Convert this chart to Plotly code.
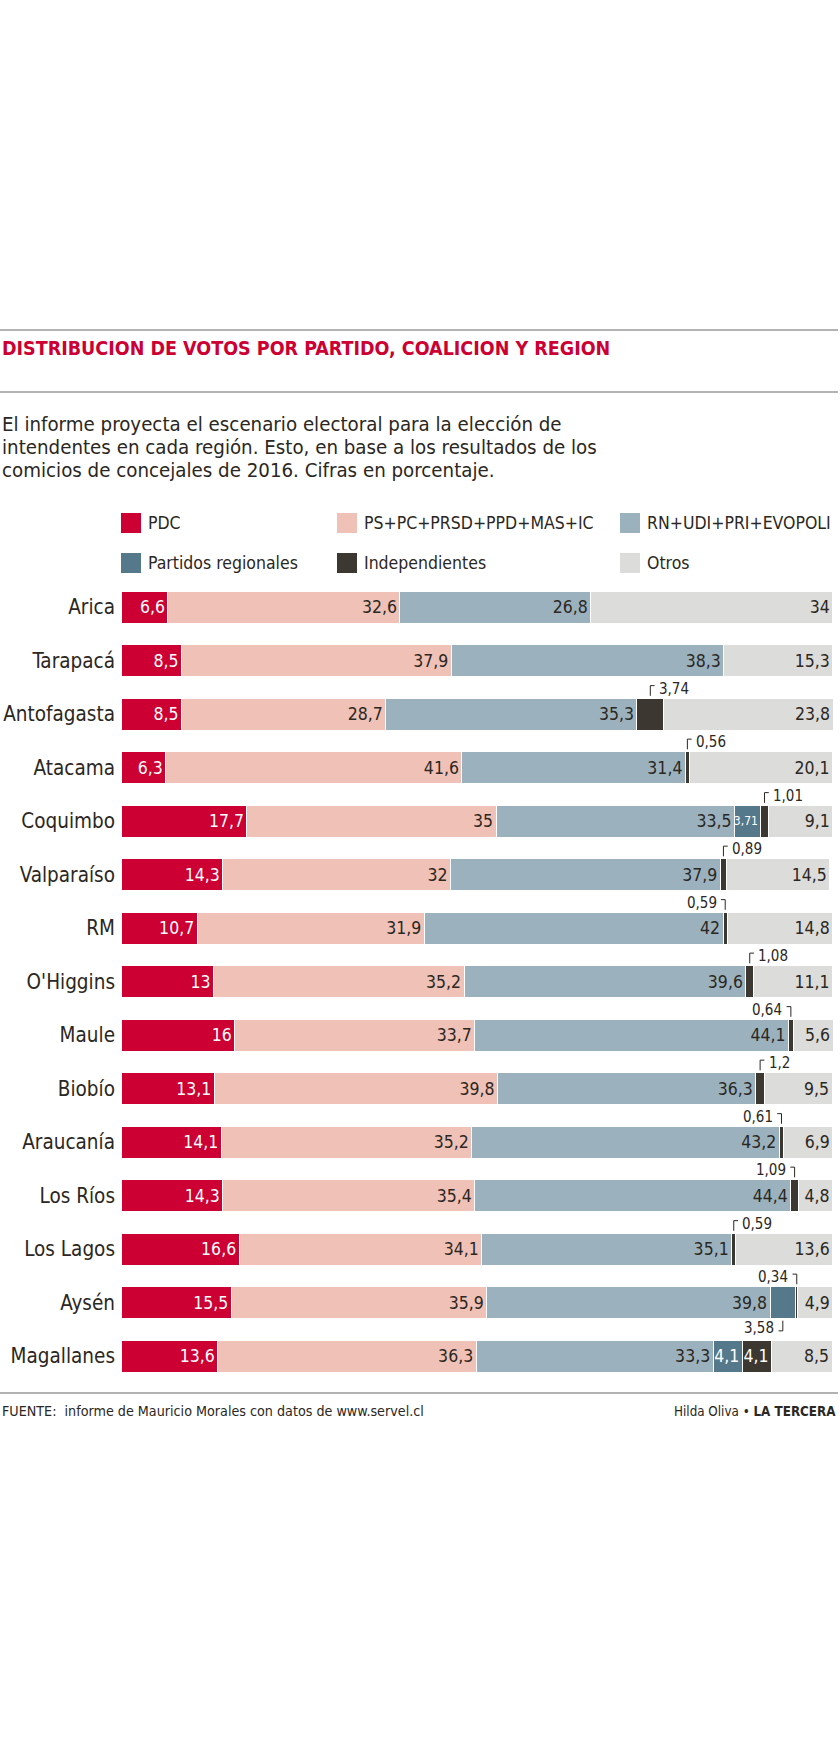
import plotly.graph_objects as go

W, H = 840, 1750

regions = ["Arica", "Tarapacá", "Antofagasta", "Atacama", "Coquimbo", "Valparaíso", "RM",
           "O'Higgins", "Maule", "Biobío", "Araucanía", "Los Ríos", "Los Lagos", "Aysén", "Magallanes"]
series_names = ["PDC", "PS+PC+PRSD+PPD+MAS+IC", "RN+UDI+PRI+EVOPOLI",
                "Partidos regionales", "Independientes", "Otros"]
pdc = [6.6, 8.5, 8.5, 6.3, 17.7, 14.3, 10.7, 13, 16, 13.1, 14.1, 14.3, 16.6, 15.5, 13.6]
ps_pc = [32.6, 37.9, 28.7, 41.6, 35, 32, 31.9, 35.2, 33.7, 39.8, 35.2, 35.4, 34.1, 35.9, 36.3]
rn_udi = [26.8, 38.3, 35.3, 31.4, 33.5, 37.9, 42, 39.6, 44.1, 36.3, 43.2, 44.4, 35.1, 39.8, 33.3]
regionales = [0, 0, 0, 0, 3.71, 0, 0, 0, 0, 0, 0, 0, 0, 3.58, 4.1]
independientes = [0, 0, 3.74, 0.56, 1.01, 0.89, 0.59, 1.08, 0.64, 1.2, 0.61, 1.09, 0.59, 0.34, 4.1]
otros = [34, 15.3, 23.8, 20.1, 9.1, 14.5, 14.8, 11.1, 5.6, 9.5, 6.9, 4.8, 13.6, 4.9, 8.5]
series_values = [pdc, ps_pc, rn_udi, regionales, independientes, otros]

# labels drawn outside the bar with a small bracket: (region, series index, placement)
callouts = [("Antofagasta", 4, "up-right"), ("Atacama", 4, "up-right"), ("Coquimbo", 4, "up-right"),
            ("Valparaíso", 4, "up-right"), ("RM", 4, "up-left"), ("O'Higgins", 4, "up-right"),
            ("Maule", 4, "up-left"), ("Biobío", 4, "up-right"), ("Araucanía", 4, "up-left"),
            ("Los Ríos", 4, "up-left"), ("Los Lagos", 4, "up-right"), ("Aysén", 4, "up-left"),
            ("Aysén", 3, "down-left")]

colors = ["#CC0033", "#F0C1B6", "#9BB2BE", "#55798A", "#3C3731", "#DCDCDB"]
text_colors = ["#FFFFFF", "#2B2722", "#2B2722", "#FFFFFF", "#FFFFFF", "#2B2722"]
TEXT = "#2B2722"
FONT = "DejaVu Sans Condensed, Roboto Condensed, sans-serif"


def fmt(v):
    return f"{v:g}".replace(".", ",")


callout_keys = {(r, s) for r, s, _ in callouts}
totals = [sum(vals[i] for vals in series_values) for i in range(len(regions))]

fig = go.Figure()
for si, (name, vals) in enumerate(zip(series_names, series_values)):
    texts, sizes = [], []
    for r, v in zip(regions, vals):
        if v == 0 or (r, si) in callout_keys:
            texts.append("")
        else:
            texts.append(fmt(v))
        sizes.append(12 if (si == 3 and v < 4) else 17.5)
    fig.add_trace(go.Bar(
        y=regions, x=vals, orientation="h", name=name,
        marker=dict(color=colors[si], line=dict(color="white", width=1)),
        text=texts, textposition="inside", insidetextanchor="end", textangle=0,
        constraintext="none", cliponaxis=False,
        insidetextfont=dict(color=text_colors[si], size=sizes, family=FONT),
        hoverinfo="skip", showlegend=False,
    ))

x0p, x1p = 121, 833
top_px, bot_px = 580.25, 1382.75

fig.update_layout(
    width=W, height=H, barmode="stack", bargap=0.402,
    margin=dict(l=0, r=0, t=0, b=0),
    plot_bgcolor="white", paper_bgcolor="white",
    font=dict(family=FONT, color=TEXT),
    xaxis=dict(domain=[x0p / W, x1p / W], range=[0, max(totals)], visible=False, fixedrange=True),
    yaxis=dict(domain=[1 - bot_px / H, 1 - top_px / H], range=[14.5, -0.5], type="category",
               showgrid=False, zeroline=False, showline=False, ticks="", fixedrange=True,
               ticklabelstandoff=5, tickfont=dict(size=20.5, color=TEXT, family=FONT)),
)


def px(x):
    return x / W


def py(y):
    return 1 - y / H


shapes, annos = [], []
# rules
for yy in (330, 392, 1393):
    shapes.append(dict(type="line", xref="paper", yref="paper", x0=0, x1=px(838), y0=py(yy), y1=py(yy),
                       line=dict(color="#9A9A9A", width=1.6)))

annos.append(dict(xref="paper", yref="paper", x=0, y=py(348), xanchor="left", yanchor="middle",
                  text="<b>DISTRIBUCION DE VOTOS POR PARTIDO, COALICION Y REGION</b>", showarrow=False,
                  font=dict(size=19.5, color="#CC0033", family=FONT)))
para = ["El informe proyecta el escenario electoral para la elección de",
        "intendentes en cada región. Esto, en base a los resultados de los",
        "comicios de concejales de 2016. Cifras en porcentaje."]
for k, line in enumerate(para):
    annos.append(dict(xref="paper", yref="paper", x=0, y=py(424 + k * 23), xanchor="left", yanchor="middle",
                      text=line, showarrow=False, font=dict(size=20.3, color=TEXT, family=FONT)))

# legend
leg_pos = [(121, 523), (337, 523), (620, 523), (121, 563), (337, 563), (620, 563)]
for (lx, ly), name, c in zip(leg_pos, series_names, colors):
    shapes.append(dict(type="rect", xref="paper", yref="paper", x0=px(lx), x1=px(lx + 20),
                       y0=py(ly - 10), y1=py(ly + 10), fillcolor=c, line=dict(width=0)))
    annos.append(dict(xref="paper", yref="paper", x=px(lx + 25), y=py(ly), xanchor="left", yanchor="middle",
                      text=name, showarrow=False, font=dict(size=17.5, color=TEXT, family=FONT)))

# callouts
for r, si, place in callouts:
    i = regions.index(r)
    before = sum(series_values[k][i] for k in range(si))
    xc = before + series_values[si][i] / 2
    v = series_values[si][i]
    sgn = -1 if place.startswith("up") else 1
    dirx = 1 if place.endswith("right") else -1
    y_in, y_out = i + sgn * 0.34, i + sgn * 0.53
    shapes.append(dict(type="line", xref="x", yref="y", x0=xc, x1=xc, y0=y_in, y1=y_out,
                       line=dict(color=TEXT, width=1)))
    shapes.append(dict(type="line", xref="x", yref="y", x0=xc, x1=xc + dirx * 0.6, y0=y_out, y1=y_out,
                       line=dict(color=TEXT, width=1)))
    annos.append(dict(xref="x", yref="y", x=xc + dirx * 0.9, y=i + sgn * 0.47,
                      xanchor="left" if dirx > 0 else "right", yanchor="middle",
                      text=fmt(v), showarrow=False, font=dict(size=15, color=TEXT, family=FONT)))

# footer
annos.append(dict(xref="paper", yref="paper", x=0, y=py(1411), xanchor="left", yanchor="middle",
                  text="FUENTE:  informe de Mauricio Morales con datos de www.servel.cl", showarrow=False,
                  font=dict(size=14.2, color=TEXT, family=FONT)))
annos.append(dict(xref="paper", yref="paper", x=px(838), y=py(1411), xanchor="right", yanchor="middle",
                  text="Hilda Oliva • <b>LA TERCERA</b>", showarrow=False,
                  font=dict(size=13.3, color=TEXT, family=FONT)))

fig.update_layout(shapes=shapes, annotations=annos)
fig.write_html("out.html", config={"displayModeBar": False, "staticPlot": True},
               post_script="document.body.style.margin='0px';")
